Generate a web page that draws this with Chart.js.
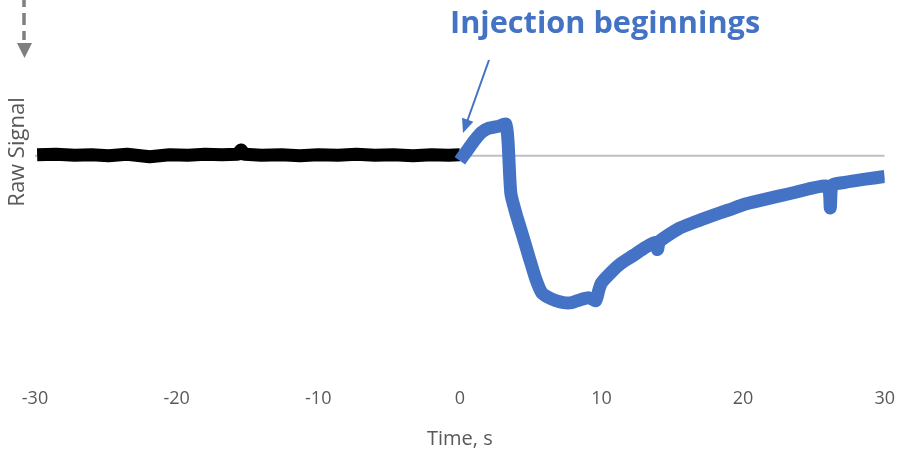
<!DOCTYPE html>
<html>
<head>
<meta charset="utf-8">
<script src="https://cdn.jsdelivr.net/npm/chart.js@4.4.1/dist/chart.umd.min.js"></script>
<style>
  html, body { margin: 0; padding: 0; background: #fff; }
  #wrap { width: 902px; height: 451px; position: relative; }
</style>
</head>
<body>
<div id="wrap"><canvas id="chart"></canvas></div>
<script>
// baseline trace before injection (time s, raw signal)
const baselineTime = [-29.85, -28.5, -27.2, -26, -24.8, -23.5, -21.9, -20.5, -19.2, -18, -16.8, -15.7, -15.45, -15.2, -14, -12.6, -11.3, -10, -8.6, -7.3, -6, -4.7, -3.3, -2, -0.8, 0];
const baselineSignal = [1, 1.5, 0.5, 1, 0, 1.5, -1, 1, 0.5, 1.5, 1, 1.5, 6, 1.5, 0.5, 1, 0, 1, 0.5, 1.5, 0.5, 1, 0, 1, 0.5, 1];

// signal after injection
const injTime = [0, 0.5, 1.0, 1.55, 2.05, 2.75, 3.25, 3.4, 3.6, 3.95, 4.37, 4.87, 5.36, 5.78, 6.28, 6.77, 7.33, 7.9, 8.53, 9.1, 9.6, 9.8, 10.0, 10.7, 11.4, 12.27, 13.1, 13.8, 13.96, 14.1, 15.44, 16.64, 17.77, 18.97, 20.17, 21.3, 22.5, 23.7, 24.8, 26.0, 26.16, 26.3, 27.2, 28.5, 30.0];
const injSignal = [-5, 5, 15, 24, 28, 30, 32, 15, -38, -58, -78, -102, -125, -139, -144, -147, -149, -149, -146, -144, -147, -137, -129, -118, -109, -101, -93, -88, -95, -87, -74, -67, -61, -55, -49, -45, -41, -37, -33, -31, -53, -30, -27, -24, -21];

const xTicks = [-30, -20, -10, 0, 10, 20, 30];
const yRange = [-229, 148];

const axisColor = '#595959';
const blue = '#4472c4';

function toPoints(xs, ys) {
    return xs.map((x, i) => ({x: x, y: ys[i]}));
}

// annotation drawing: y title, dashed arrow, label with arrow
const overlay = {
    id: 'overlay',
    afterDraw(chart) {
        const ctx = chart.ctx;
        ctx.save();

        // rotated y title
        ctx.fillStyle = axisColor;
        ctx.font = '22px "Open Sans"';
        ctx.textAlign = 'center';
        ctx.textBaseline = 'middle';
        ctx.translate(18, 152);
        ctx.rotate(-Math.PI / 2);
        ctx.fillText('Raw Signal', 0, 0);
        ctx.setTransform(1, 0, 0, 1, 0, 0);

        // dashed grey arrow at the top left
        ctx.strokeStyle = '#7f7f7f';
        ctx.fillStyle = '#7f7f7f';
        ctx.lineWidth = 3.5;
        ctx.setLineDash([12, 6]);
        ctx.beginPath();
        ctx.moveTo(24, -5);
        ctx.lineTo(24, 40);
        ctx.stroke();
        ctx.setLineDash([]);
        ctx.beginPath();
        ctx.moveTo(17, 43);
        ctx.lineTo(32, 43);
        ctx.lineTo(24.5, 58);
        ctx.closePath();
        ctx.fill();

        // label
        const text = 'Injection beginnings';
        ctx.font = 'bold 26px "Open Sans"';
        const w = ctx.measureText(text).width;
        const size = 26 * 310 / w;
        ctx.font = 'bold ' + size.toFixed(1) + 'px "Open Sans"';
        ctx.fillStyle = blue;
        ctx.textAlign = 'left';
        ctx.textBaseline = 'middle';
        ctx.fillText(text, 450, 24);

        // arrow pointing at injection start
        const x0 = 489, y0 = 60, x1 = 463, y1 = 133;
        const ang = Math.atan2(y1 - y0, x1 - x0);
        ctx.strokeStyle = blue;
        ctx.fillStyle = blue;
        ctx.lineWidth = 2;
        ctx.beginPath();
        ctx.moveTo(x0, y0);
        ctx.lineTo(x1 - 8 * Math.cos(ang), y1 - 8 * Math.sin(ang));
        ctx.stroke();
        ctx.beginPath();
        ctx.moveTo(x1, y1);
        ctx.lineTo(x1 - 14 * Math.cos(ang) + 6 * Math.sin(ang), y1 - 14 * Math.sin(ang) - 6 * Math.cos(ang));
        ctx.lineTo(x1 - 14 * Math.cos(ang) - 6 * Math.sin(ang), y1 - 14 * Math.sin(ang) + 6 * Math.cos(ang));
        ctx.closePath();
        ctx.fill();

        ctx.restore();
    }
};

new Chart(document.getElementById('chart'), {
    type: 'line',
    data: {
        datasets: [
            {
                label: 'After injection',
                data: toPoints(injTime, injSignal),
                borderColor: blue,
                borderWidth: 13,
                borderJoinStyle: 'round',
                pointRadius: 0,
                tension: 0.2
            },
            {
                label: 'Baseline',
                data: toPoints(baselineTime, baselineSignal),
                borderColor: '#000000',
                borderWidth: 13,
                borderJoinStyle: 'round',
                pointRadius: 0,
                tension: 0
            },
            {
                label: 'Zero',
                data: toPoints([xTicks[0], xTicks[xTicks.length - 1]], [0, 0]),
                borderColor: '#bfbfbf',
                borderWidth: 2,
                pointRadius: 0
            }
        ]
    },
    options: {
        responsive: true,
        maintainAspectRatio: false,
        animation: false,
        layout: { padding: { left: 35, right: 16, top: 10, bottom: 0 } },
        plugins: { legend: { display: false }, tooltip: { enabled: false } },
        scales: {
            x: {
                type: 'linear',
                min: xTicks[0],
                max: xTicks[xTicks.length - 1],
                afterBuildTicks: (axis) => { axis.ticks = xTicks.map(v => ({value: v})); },
                grid: { display: false, drawTicks: false },
                border: { display: false },
                ticks: {
                    color: axisColor,
                    font: { family: 'Open Sans', size: 18 },
                    padding: 7,
                    maxRotation: 0
                },
                title: {
                    display: true,
                    text: 'Time, s',
                    color: axisColor,
                    font: { family: 'Open Sans', size: 20 },
                    padding: { top: 10, bottom: 0 }
                }
            },
            y: {
                display: false,
                min: yRange[0],
                max: yRange[1]
            }
        }
    },
    plugins: [overlay]
});
</script>
</body>
</html>
